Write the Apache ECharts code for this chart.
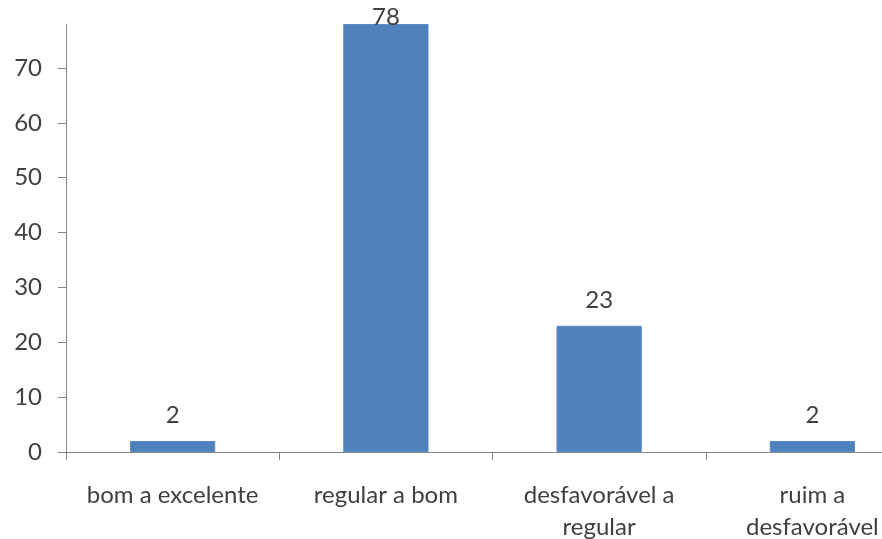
<!DOCTYPE html>
<html>
<head>
<meta charset="utf-8">
<script src="https://cdn.jsdelivr.net/npm/echarts@6/dist/echarts.min.js"></script>
<style>
html,body{margin:0;padding:0;background:#fff;}
#chart{width:882px;height:539px;}
</style>
</head>
<body>
<div id="chart"></div>
<script>
var categories = ['bom a excelente', 'regular a bom', 'desfavorável a\nregular', 'ruim a\ndesfavorável'];
var values = [2, 78, 23, 2];
var yTicks = [0, 10, 20, 30, 40, 50, 60, 70];

var chart = echarts.init(document.getElementById('chart'));
var textColor = '#404040';
var fontFamily = 'Lato, "Open Sans", sans-serif';
var seriesData = values.map(function (v, i) {
  if (v === 78) {
    return { value: v, label: { distance: -5 } };
  }
  return v;
});
chart.setOption({
  animation: false,
  backgroundColor: '#ffffff',
  grid: { left: 66, top: 24, width: 853, height: 428, containLabel: false, outerBoundsMode: 'none' },
  xAxis: {
    type: 'category',
    data: categories,
    axisLine: { lineStyle: { color: '#868686', width: 1 } },
    axisTick: { show: true, length: 8, lineStyle: { color: '#868686' } },
    axisLabel: { color: textColor, fontFamily: fontFamily, fontSize: 24, margin: 27, lineHeight: 32, interval: 0 },
    splitLine: { show: false }
  },
  yAxis: {
    type: 'value',
    min: 0,
    max: 78,
    interval: 10,
    axisLine: { show: true, lineStyle: { color: '#868686', width: 1 } },
    axisTick: { show: true, length: 8, lineStyle: { color: '#868686' }, customValues: yTicks },
    axisLabel: { color: textColor, fontFamily: fontFamily, fontSize: 24, margin: 24, customValues: yTicks },
    splitLine: { show: false }
  },
  series: [{
    type: 'bar',
    data: seriesData,
    barWidth: '40%',
    itemStyle: { color: '#4F81BD', borderColor: '#5B8CC6', borderWidth: 1 },
    label: {
      show: true,
      position: 'top',
      distance: 14,
      color: textColor,
      fontFamily: fontFamily,
      fontSize: 24
    }
  }]
});
</script>
</body>
</html>
